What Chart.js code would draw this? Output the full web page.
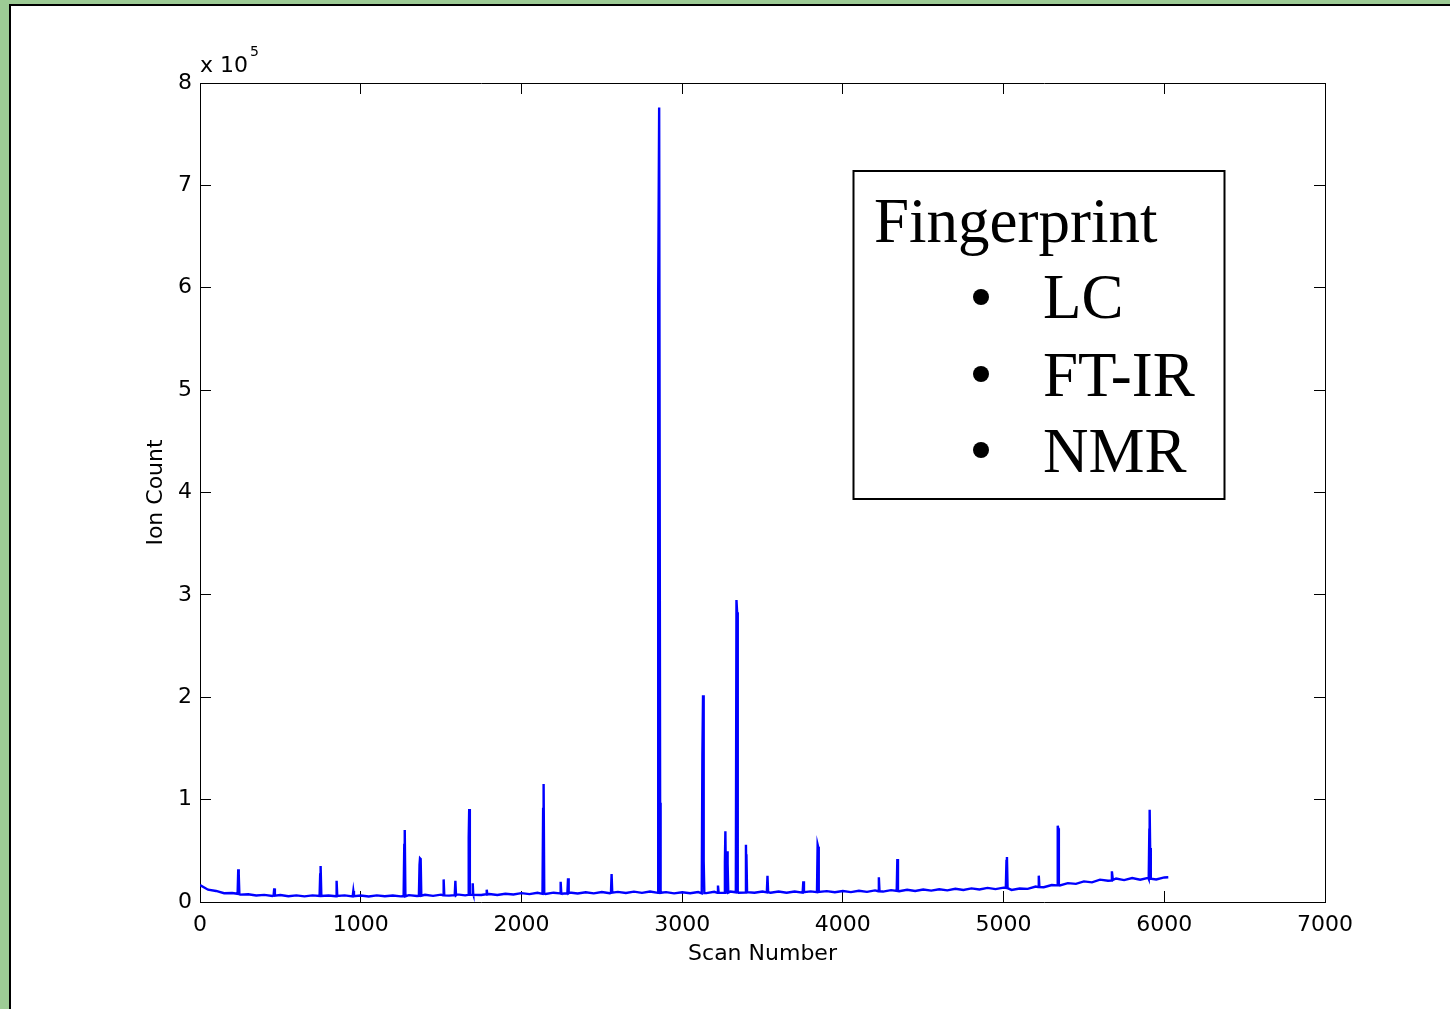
<!DOCTYPE html>
<html>
<head>
<meta charset="utf-8">
<script src="https://cdn.jsdelivr.net/npm/chart.js@4.4.1/dist/chart.umd.min.js"></script>
<style>
  html, body { margin: 0; padding: 0; }
  body { width: 1450px; height: 1009px; background: #9dcb95; position: relative; overflow: hidden; }
  .panel { position: absolute; left: 9px; top: 4px; width: 1500px; height: 1100px; background: #fff; border: 2px solid #000; }
  #chart { position: absolute; left: 0; top: 0; }
</style>
</head>
<body>
<div class="panel"></div>
<canvas id="chart" width="1450" height="1009"></canvas>
<script>
'use strict';

// x axis (scan number) and y axis (ion count, shown as x 10^5)
const xTicks = [0, 1000, 2000, 3000, 4000, 5000, 6000, 7000];
const yTicks = [0, 100000, 200000, 300000, 400000, 500000, 600000, 700000, 800000];

// noisy baseline, every 50 scans
const baselineScans = [
  0, 50, 100, 150, 200, 250, 300, 350, 400, 450, 500, 550, 600, 650, 700, 750, 800, 850, 900, 950,
  1000, 1050, 1100, 1150, 1200, 1250, 1300, 1350, 1400, 1450, 1500, 1550, 1600, 1650, 1700, 1750, 1800, 1850, 1900, 1950,
  2000, 2050, 2100, 2150, 2200, 2250, 2300, 2350, 2400, 2450, 2500, 2550, 2600, 2650, 2700, 2750, 2800, 2850, 2900, 2950,
  3000, 3050, 3100, 3150, 3200, 3250, 3300, 3350, 3400, 3450, 3500, 3550, 3600, 3650, 3700, 3750, 3800, 3850, 3900, 3950,
  4000, 4050, 4100, 4150, 4200, 4250, 4300, 4350, 4400, 4450, 4500, 4550, 4600, 4650, 4700, 4750, 4800, 4850, 4900, 4950,
  5000, 5050, 5100, 5150, 5200, 5250, 5300, 5350, 5400, 5450, 5500, 5550, 5600, 5650, 5700, 5750, 5800, 5850, 5900, 5950,
  6000, 6025
];
const baselineCounts = [
  16600, 12000, 10800, 8600, 8800, 7200, 7600, 6300, 7000, 5900, 6800, 5600, 6500, 5500, 6500, 5400, 6400, 5600, 6500, 5500,
  6400, 5400, 6500, 5600, 6300, 5500, 6700, 5800, 7000, 6000, 7200, 6200, 7400, 6500, 7600, 6800, 7800, 6900, 8100, 7400,
  8700, 7700, 9000, 7900, 9100, 8100, 9300, 8300, 9500, 8400, 9700, 8600, 9900, 8800, 10100, 8900, 10200, 8900, 9600, 8400,
  9500, 8500, 9700, 8700, 10000, 8900, 10200, 9000, 10100, 9000, 10300, 9100, 10200, 9000, 10300, 9200, 10400, 9300, 10600, 9500,
  10800, 9700, 11000, 9900, 11300, 10200, 11600, 10500, 11900, 10800, 12200, 11100, 12500, 11400, 12900, 11800, 13300, 12200, 13800, 12600,
  14000, 11800, 13200, 12800, 15100, 14400, 16600, 16200, 18400, 17700, 20100, 19200, 21800, 20800, 23000, 21400, 23400, 21800, 23600, 22000,
  24000, 24200
];

// peaks: foot, apex(es), foot
const peakScans = [
  234, 238, 241, 245,
  458, 462, 466,
  744, 748, 751, 755,
  846, 850, 854,
  950, 954, 958,
  1267, 1271, 1274, 1278,
  1362, 1366, 1369, 1373, 1377,
  1512, 1516, 1520,
  1585, 1589, 1593,
  1668, 1672, 1675, 1679,
  1693, 1697, 1701,
  1780, 1784, 1788,
  2131, 2135, 2138, 2142,
  2240, 2244, 2248,
  2286, 2290, 2294,
  2557, 2561, 2565,
  2850, 2852, 2857, 2863, 2866,
  3122, 3126, 3130, 3134, 3138,
  3219, 3223, 3227,
  3262, 3266, 3269, 3273,
  3276, 3280, 3283, 3287,
  3334, 3338, 3342, 3346,
  3393, 3397, 3400, 3404,
  3527, 3531, 3535,
  3750, 3754, 3758,
  3839, 3843, 3846, 3850,
  4220, 4224, 4228,
  4335, 4339, 4343,
  5014, 5018, 5021, 5025,
  5215, 5219, 5223,
  5333, 5337, 5340, 5344,
  5670, 5674, 5680,
  5903, 5907, 5909, 5912, 5916
];
const peakCounts = [
  8000, 31900, 27300, 7600,
  6500, 13300, 6200,
  6000, 28000, 35100, 5800,
  5600, 20800, 5900,
  5500, 10700, 5600,
  5800, 55700, 70300, 5600,
  6000, 36400, 42700, 42000, 6200,
  6500, 22100, 6400,
  6700, 20800, 6500,
  7000, 63200, 90800, 7200,
  7000, 18200, 7100,
  7500, 12000, 7300,
  8000, 90800, 115200, 8200,
  8400, 19800, 8200,
  8500, 23100, 8600,
  9000, 27300, 9200,
  9200, 596000, 776000, 97000, 9000,
  8500, 144000, 202000, 40300, 8700,
  9000, 16000, 9200,
  9000, 39000, 69000, 9300,
  9400, 49500, 37400, 9200,
  9500, 295000, 283000, 9400,
  9300, 56000, 46600, 9600,
  9400, 25700, 9500,
  9500, 20200, 9600,
  9600, 56000, 54000, 9800,
  10500, 24100, 10400,
  10800, 42000, 10700,
  13800, 40000, 44000, 13500,
  14600, 25700, 14500,
  16200, 74500, 72000, 16500,
  21000, 30000, 21500,
  22500, 70600, 90000, 52700, 22800
];

const trace = baselineScans.map((s, i) => ({ x: s, y: baselineCounts[i] }))
  .concat(peakScans.map((s, i) => ({ x: s, y: peakCounts[i] })))
  .sort((a, b) => a.x - b.x);

const AXIS_FONT = { family: '"DejaVu Sans", sans-serif', size: 22 };

// inside tick marks, no grid on the plot
const tickGrid = { drawOnChartArea: false, color: '#000', lineWidth: 1, tickLength: -11 };
const frame = { display: true, color: '#000', width: 1 };

// "x 10^5" and the text box on the right
const annotations = {
  id: 'annotations',
  afterDraw(chart) {
    const ctx = chart.ctx;
    ctx.save();
    ctx.fillStyle = '#000';
    ctx.textBaseline = 'alphabetic';
    ctx.textAlign = 'left';
    ctx.font = '22px "DejaVu Sans", sans-serif';
    ctx.fillText('x 10', 200, 72);
    ctx.font = '14px "DejaVu Sans", sans-serif';
    ctx.fillText('5', 250, 56);

    ctx.strokeStyle = '#000';
    ctx.lineWidth = 2;
    ctx.strokeRect(853.5, 171, 371, 328);
    ctx.font = '63px "Liberation Serif", "Times New Roman", serif';
    ctx.fillText('Fingerprint', 874, 242);
    const rows = [['LC', 318, 297], ['FT-IR', 396, 374], ['NMR', 472, 450]];
    rows.forEach(([label, base, dot]) => {
      ctx.fillText(label, 1043, base);
      ctx.beginPath();
      ctx.arc(981, dot, 8, 0, Math.PI * 2);
      ctx.fill();
    });
    ctx.restore();
  },
};

new Chart(document.getElementById('chart'), {
  type: 'line',
  data: {
    datasets: [{
      data: trace,
      borderColor: '#0000ff',
      borderWidth: 2.4,
      pointRadius: 0,
      tension: 0,
      fill: false,
    }],
  },
  options: {
    responsive: false,
    animation: false,
    events: [],
    layout: { padding: { left: 0, top: 83, right: 125, bottom: 0 } },
    plugins: { legend: { display: false }, tooltip: { enabled: false } },
    scales: {
      x: {
        type: 'linear',
        min: xTicks[0],
        max: xTicks[xTicks.length - 1],
        afterBuildTicks: (s) => { s.ticks = xTicks.map(v => ({ value: v })); },
        ticks: { color: '#000', font: AXIS_FONT, padding: 21, maxRotation: 0, callback: (v) => String(v) },
        grid: tickGrid,
        border: frame,
        title: { display: true, text: 'Scan Number', color: '#000', font: AXIS_FONT, padding: { top: 0, bottom: 42 } },
        afterFit: (s) => { s.height = 107; },
      },
      y: {
        type: 'linear',
        min: yTicks[0],
        max: yTicks[yTicks.length - 1],
        afterBuildTicks: (s) => { s.ticks = yTicks.map(v => ({ value: v })); },
        ticks: { color: '#000', font: AXIS_FONT, padding: 19, callback: (v) => String(v / 100000) },
        grid: tickGrid,
        border: frame,
        title: { display: true, text: 'Ion Count', color: '#000', font: AXIS_FONT, padding: { top: 143, bottom: 0 } },
        afterFit: (s) => { s.width = 200; },
      },
      x2: {
        type: 'linear',
        position: 'top',
        min: xTicks[0],
        max: xTicks[xTicks.length - 1],
        afterBuildTicks: (s) => { s.ticks = xTicks.map(v => ({ value: v })); },
        ticks: { display: false },
        grid: tickGrid,
        border: frame,
        afterFit: (s) => { s.height = 0; },
      },
      y2: {
        type: 'linear',
        position: 'right',
        min: yTicks[0],
        max: yTicks[yTicks.length - 1],
        afterBuildTicks: (s) => { s.ticks = yTicks.map(v => ({ value: v })); },
        ticks: { display: false },
        grid: tickGrid,
        border: frame,
        afterFit: (s) => { s.width = 0; },
      },
    },
  },
  plugins: [annotations],
});
</script>
</body>
</html>
